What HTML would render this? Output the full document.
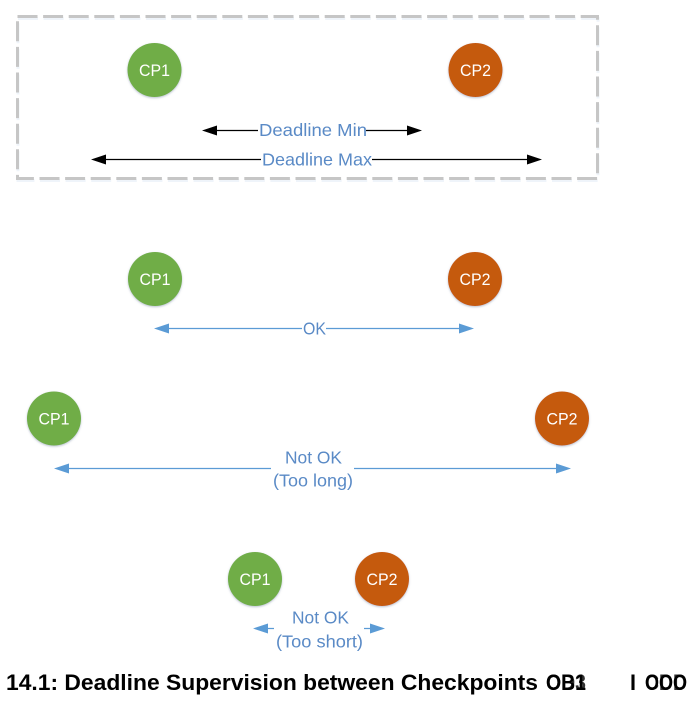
<!DOCTYPE html>
<html>
<head>
<meta charset="utf-8">
<style>
html,body{margin:0;padding:0;background:#fff;width:699px;height:701px;overflow:hidden}
svg{display:block}
.l{font-family:"Liberation Sans",sans-serif;font-size:17.5px;fill:#5a8ac6}
.c{font-family:"Liberation Sans",sans-serif;font-size:17px;fill:#fff}
.t{font-family:"Liberation Sans",sans-serif;font-weight:bold;font-size:22.5px;fill:#000}
</style>
</head>
<body>
<svg width="699" height="701" viewBox="0 0 699 701" xmlns="http://www.w3.org/2000/svg">
<defs>
<filter id="s" x="-20%" y="-20%" width="140%" height="140%"><feDropShadow dx="0" dy="1" stdDeviation="1" flood-color="#7f8fa8" flood-opacity=".55"/></filter>
</defs>

<!-- dashed frame -->
<rect x="18" y="18.5" width="580" height="162" fill="none" stroke="#dfeaf6" stroke-opacity=".5" stroke-width="3" stroke-dasharray="20 5.6"/>
<rect x="17.5" y="16.5" width="580" height="162" fill="#fff" fill-opacity="0" stroke="#c6c6c6" stroke-width="3" stroke-dasharray="20 5.6"/>

<!-- circles -->
<g filter="url(#s)">
<circle cx="154.5" cy="70" r="27" fill="#70ad47"/>
<circle cx="475.5" cy="70" r="27" fill="#c55a11"/>
<circle cx="155" cy="279" r="27" fill="#70ad47"/>
<circle cx="475" cy="279" r="27" fill="#c55a11"/>
<circle cx="54" cy="418.5" r="27" fill="#70ad47"/>
<circle cx="562" cy="418.5" r="27" fill="#c55a11"/>
<circle cx="255" cy="579" r="27" fill="#70ad47"/>
<circle cx="382" cy="579" r="27" fill="#c55a11"/>
</g>
<g class="c" text-anchor="middle">
<text x="154.5" y="76" textLength="31" lengthAdjust="spacingAndGlyphs">CP1</text>
<text x="475.5" y="76" textLength="31" lengthAdjust="spacingAndGlyphs">CP2</text>
<text x="155" y="285" textLength="31" lengthAdjust="spacingAndGlyphs">CP1</text>
<text x="475" y="285" textLength="31" lengthAdjust="spacingAndGlyphs">CP2</text>
<text x="54" y="424.5" textLength="31" lengthAdjust="spacingAndGlyphs">CP1</text>
<text x="562" y="424.5" textLength="31" lengthAdjust="spacingAndGlyphs">CP2</text>
<text x="255" y="585" textLength="31" lengthAdjust="spacingAndGlyphs">CP1</text>
<text x="382" y="585" textLength="31" lengthAdjust="spacingAndGlyphs">CP2</text>
</g>

<!-- black arrows -->
<g stroke="#000" stroke-width="1.2" fill="none">
<path d="M215 130.5H258M366 130.5H410"/>
<path d="M105 159.5H261M372 159.5H529"/>
</g>
<g fill="#000">
<path d="M202 130.5L217 125.5V135.5Z"/>
<path d="M422 130.5L407 125.5V135.5Z"/>
<path d="M91 159.5L106 154.5V164.5Z"/>
<path d="M542 159.5L527 154.5V164.5Z"/>
</g>

<!-- blue arrows -->
<g stroke="#5b9bd5" stroke-width="1.3" fill="none">
<path d="M165 328.5H302M326 328.5H463"/>
<path d="M66 468.5H271M354 468.5H559"/>
<path d="M264 628.5H274M364 628.5H374"/>
</g>
<g fill="#5b9bd5">
<path d="M154 328.5L169 323.5V333.5Z"/>
<path d="M474 328.5L459 323.5V333.5Z"/>
<path d="M54 468.5L69 463.5V473.5Z"/>
<path d="M571 468.5L556 463.5V473.5Z"/>
<path d="M253 628.5L268 623.5V633.5Z"/>
<path d="M385 628.5L370 623.5V633.5Z"/>
</g>

<!-- labels -->
<g class="l">
<text x="259" y="136" textLength="108" lengthAdjust="spacingAndGlyphs">Deadline Min</text>
<text x="262" y="165.5" textLength="110" lengthAdjust="spacingAndGlyphs">Deadline Max</text>
<text x="303" y="334.5" textLength="23" lengthAdjust="spacingAndGlyphs">OK</text>
<text x="285" y="463.5" textLength="57" lengthAdjust="spacingAndGlyphs">Not OK</text>
<text x="273" y="486.5" textLength="80" lengthAdjust="spacingAndGlyphs">(Too long)</text>
<text x="292" y="623.5" textLength="57" lengthAdjust="spacingAndGlyphs">Not OK</text>
<text x="276" y="647.5" textLength="87" lengthAdjust="spacingAndGlyphs">(Too short)</text>
</g>

<!-- caption -->
<g class="t">
<text x="6" y="690" textLength="532" lengthAdjust="spacingAndGlyphs">14.1: Deadline Supervision between Checkpoints</text>
<text x="546" y="690" textLength="40" lengthAdjust="spacingAndGlyphs">OB1</text>
<text x="546" y="690" textLength="40" lengthAdjust="spacingAndGlyphs" opacity=".8">OD3</text>
<text x="630" y="690" textLength="6" lengthAdjust="spacingAndGlyphs">I</text>
<text x="645" y="690" textLength="42" lengthAdjust="spacingAndGlyphs">OOO</text>
<text x="645" y="690" textLength="42" lengthAdjust="spacingAndGlyphs" opacity=".8">CDD</text>
</g>
</svg>
</body>
</html>
